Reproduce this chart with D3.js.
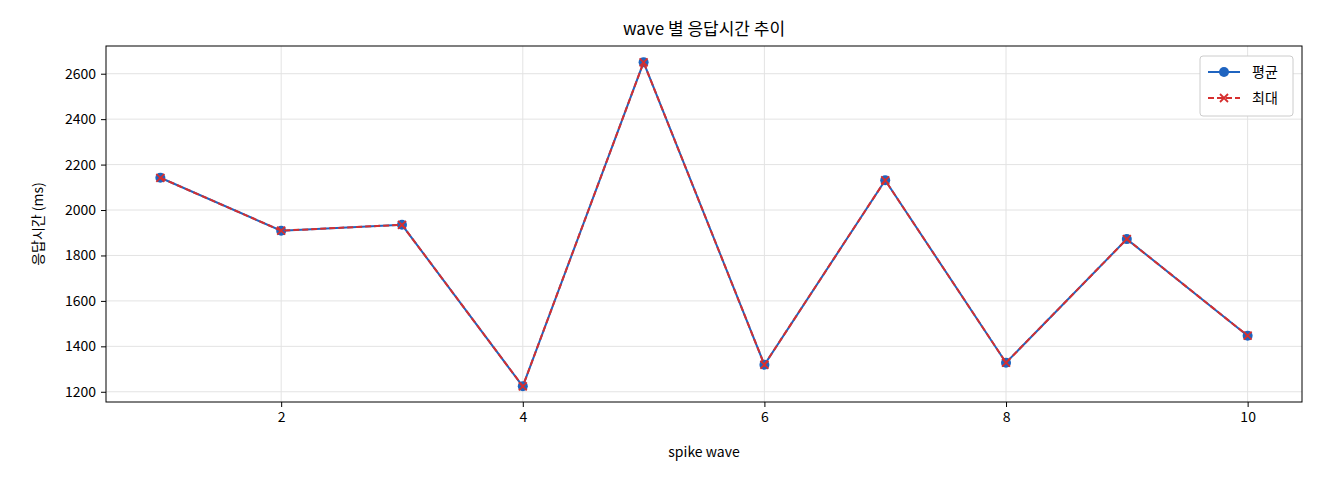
<!DOCTYPE html>
<html><head><meta charset="utf-8">
<script src="https://cdn.jsdelivr.net/npm/d3@7"></script>
<style>body{margin:0;background:#fff}text{font-family:"Noto Sans CJK KR","DejaVu Sans",sans-serif}</style>
</head><body><svg id="c" width="1320" height="480"></svg>
<script>
const waves=[1,2,3,4,5,6,7,8,9,10];
const avgVals=[2142,1909,1935,1224,2650,1319,2131,1328,1872,1447];
const maxVals=[2142,1909,1935,1224,2650,1319,2131,1328,1872,1447];
const xTicks=[2,4,6,8,10];
const yTicks=[1200,1400,1600,1800,2000,2200,2400,2600];
const svg=d3.select("#c");
const L=106,R=1302,T=46,B=402;
const x=d3.scaleLinear().domain([0.55,10.45]).range([L,R]);
const y=d3.scaleLinear().domain([1155,2722]).range([B,T]);
const g=svg.append("g");
g.selectAll(".gx").data(xTicks).join("line").attr("x1",d=>x(d)).attr("x2",d=>x(d)).attr("y1",T).attr("y2",B).attr("stroke","#e3e3e3");
g.selectAll(".gy").data(yTicks).join("line").attr("y1",d=>y(d)).attr("y2",d=>y(d)).attr("x1",L).attr("x2",R).attr("stroke","#e3e3e3");
const ax=svg.append("g").attr("transform",`translate(0,${B})`).call(d3.axisBottom(x).tickValues(xTicks).tickFormat(d3.format("d")).tickSize(5).tickPadding(5));
const ay=svg.append("g").attr("transform",`translate(${L},0)`).call(d3.axisLeft(y).tickValues(yTicks).tickFormat(d3.format("d")).tickSize(5).tickPadding(5));
[ax,ay].forEach(a=>{a.select(".domain").remove();a.selectAll("line").attr("stroke","#000");a.selectAll("text").attr("font-size",14).attr("fill","#000").style("font-family",'"Noto Sans CJK KR",sans-serif');});
svg.append("rect").attr("x",L).attr("y",T).attr("width",R-L).attr("height",B-T).attr("fill","none").attr("stroke","#000");
const line=d3.line().x((d,i)=>x(waves[i])).y(d=>y(d));
svg.append("path").datum(avgVals).attr("d",line).attr("fill","none").attr("stroke","#1f64c0").attr("stroke-width",2);
svg.selectAll(".pt").data(avgVals).join("circle").attr("cx",(d,i)=>x(waves[i])).attr("cy",d=>y(d)).attr("r",5).attr("fill","#1f64c0");
svg.append("path").datum(maxVals).attr("d",line).attr("fill","none").attr("stroke","#d62f2f").attr("stroke-width",2).attr("stroke-dasharray","6,3");
const cross=(sel,cx,cy,s)=>sel.append("path").attr("d",`M${cx-s},${cy-s}L${cx+s},${cy+s}M${cx-s},${cy+s}L${cx+s},${cy-s}`).attr("stroke","#d62f2f").attr("stroke-width",1.8);
maxVals.forEach((d,i)=>cross(svg,x(waves[i]),y(d),4));
svg.append("text").attr("x",(L+R)/2).attr("y",35).attr("text-anchor","middle").attr("font-size",17).text("wave 별 응답시간 추이");
svg.append("text").attr("x",(L+R)/2).attr("y",457).attr("text-anchor","middle").attr("font-size",14).text("spike wave");
svg.append("text").attr("transform",`translate(43,${(T+B)/2}) rotate(-90)`).attr("text-anchor","middle").attr("font-size",14).text("응답시간 (ms)");
const lg=svg.append("g").attr("transform","translate(1200,56)");
lg.append("rect").attr("width",93).attr("height",60).attr("rx",3).attr("fill","#fff").attr("stroke","#ccc");
lg.append("line").attr("x1",8).attr("x2",40).attr("y1",16).attr("y2",16).attr("stroke","#1f64c0").attr("stroke-width",2);
lg.append("circle").attr("cx",24).attr("cy",16).attr("r",5).attr("fill","#1f64c0");
lg.append("text").attr("x",52).attr("y",21).attr("font-size",14).text("평균");
lg.append("line").attr("x1",8).attr("x2",40).attr("y1",42).attr("y2",42).attr("stroke","#d62f2f").attr("stroke-width",2).attr("stroke-dasharray","6,3");
cross(lg,24,42,4);
lg.append("text").attr("x",52).attr("y",47).attr("font-size",14).text("최대");
</script></body></html>
